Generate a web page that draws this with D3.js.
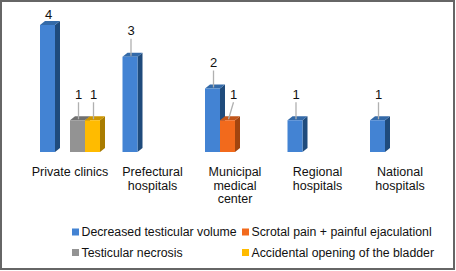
<!DOCTYPE html>
<html><head><meta charset="utf-8">
<script src="https://cdn.jsdelivr.net/npm/d3@7/dist/d3.min.js"></script>
<style>body{margin:0;background:#fff}svg{display:block}text{font-family:"Liberation Sans",Arial,sans-serif;fill:#111}</style>
</head><body><svg id="c" width="456" height="271"></svg>
<script>
const categories = ["Private clinics", "Prefectural hospitals", "Municipal medical center", "Regional hospitals", "National hospitals"];
const categoryLines = [["Private clinics"], ["Prefectural", "hospitals"], ["Municipal", "medical", "center"], ["Regional", "hospitals"], ["National", "hospitals"]];
const seriesNames = ["Decreased testicular volume", "Scrotal pain + painful ejaculationl", "Testicular necrosis", "Accidental opening of the bladder"];
const decreasedVolume = [4, 3, 2, 1, 1];
const scrotalPain = [0, 0, 1, 0, 0];
const necrosis = [1, 0, 0, 0, 0];
const bladderOpening = [1, 0, 0, 0, 0];
const seriesValues = [decreasedVolume, scrotalPain, necrosis, bladderOpening];
const colors = [
  {front: "#4383d3", top: "#346aa8", side: "#1f4b7c"},
  {front: "#f26a1c", top: "#c2561a", side: "#a2450f"},
  {front: "#939393", top: "#707070", side: "#5c5c5c"},
  {front: "#ffbb00", top: "#cc9500", side: "#a97c00"}
];

const svg = d3.select("#c");
svg.append("rect").attr("x", 1).attr("y", 1).attr("width", 453).attr("height", 268)
  .attr("fill", "#fff").attr("stroke", "#666").attr("stroke-width", 2);

const baseY = 152;
const x0 = d3.scaleBand().domain(categories).range([28.75, 441.25]).paddingInner(0).paddingOuter(0);
const x1 = d3.scaleBand().domain(d3.range(4)).range([0, 60]);
const y = d3.scaleLinear().domain([0, 4]).range([baseY, 25]);
const dx = 5, dy = 4;

const g = svg.append("g");
categories.forEach((c, ci) => {
  const gx = x0(c) + (x0.bandwidth() - 60) / 2;
  seriesValues.forEach((vals, si) => {
    const v = vals[ci];
    if (!v) return;
    const bx = gx + x1(si), bw = x1.bandwidth(), by = y(v), bh = baseY - by;
    const col = colors[si];
    g.append("path").attr("d", `M${bx+bw},${by} L${bx+bw+dx},${by-dy} L${bx+bw+dx},${baseY-dy} L${bx+bw},${baseY} Z`).attr("fill", col.side);
    g.append("path").attr("d", `M${bx},${by} L${bx+dx},${by-dy} L${bx+bw+dx},${by-dy} L${bx+bw},${by} Z`).attr("fill", col.top);
    g.append("rect").attr("x", bx).attr("y", by).attr("width", bw).attr("height", bh).attr("fill", col.front);
    // label: shift right when the neighbouring bar on the left is taller
    const prev = si > 0 ? seriesValues[si - 1][ci] : 0;
    const shift = prev > v ? 5 : 0;
    const cx = bx + bw / 2 + 1;
    const off = Math.min(26, by - 14);
    const ty = by - off;
    if (off > 16) {
      g.append("line").attr("x1", cx + shift).attr("x2", cx).attr("y1", ty + 8).attr("y2", by - 1)
        .attr("stroke", "#b0b0b0").attr("stroke-width", 1.3);
    }
    g.append("text").attr("x", cx + shift).attr("y", ty + 4.5).attr("text-anchor", "middle")
      .attr("font-size", 13).text(v);
  });
  const t = g.append("text").attr("text-anchor", "middle").attr("font-size", 12.5)
    .attr("x", x0(c) + x0.bandwidth() / 2).attr("y", 176);
  categoryLines[ci].forEach((ln, li) => t.append("tspan").attr("x", x0(c) + x0.bandwidth() / 2).attr("dy", li ? 13.6 : 0).text(ln));
});

const legendPos = [[72, 232], [242, 232], [72, 252.5], [242, 252.5]];
seriesNames.forEach((n, i) => {
  const [lx, ly] = legendPos[i];
  svg.append("rect").attr("x", lx).attr("y", ly - 3.5).attr("width", 7).attr("height", 7).attr("fill", colors[i].front);
  svg.append("text").attr("x", lx + 9.5).attr("y", ly + 4.3).attr("font-size", 12.3).text(n);
});
</script></body></html>
